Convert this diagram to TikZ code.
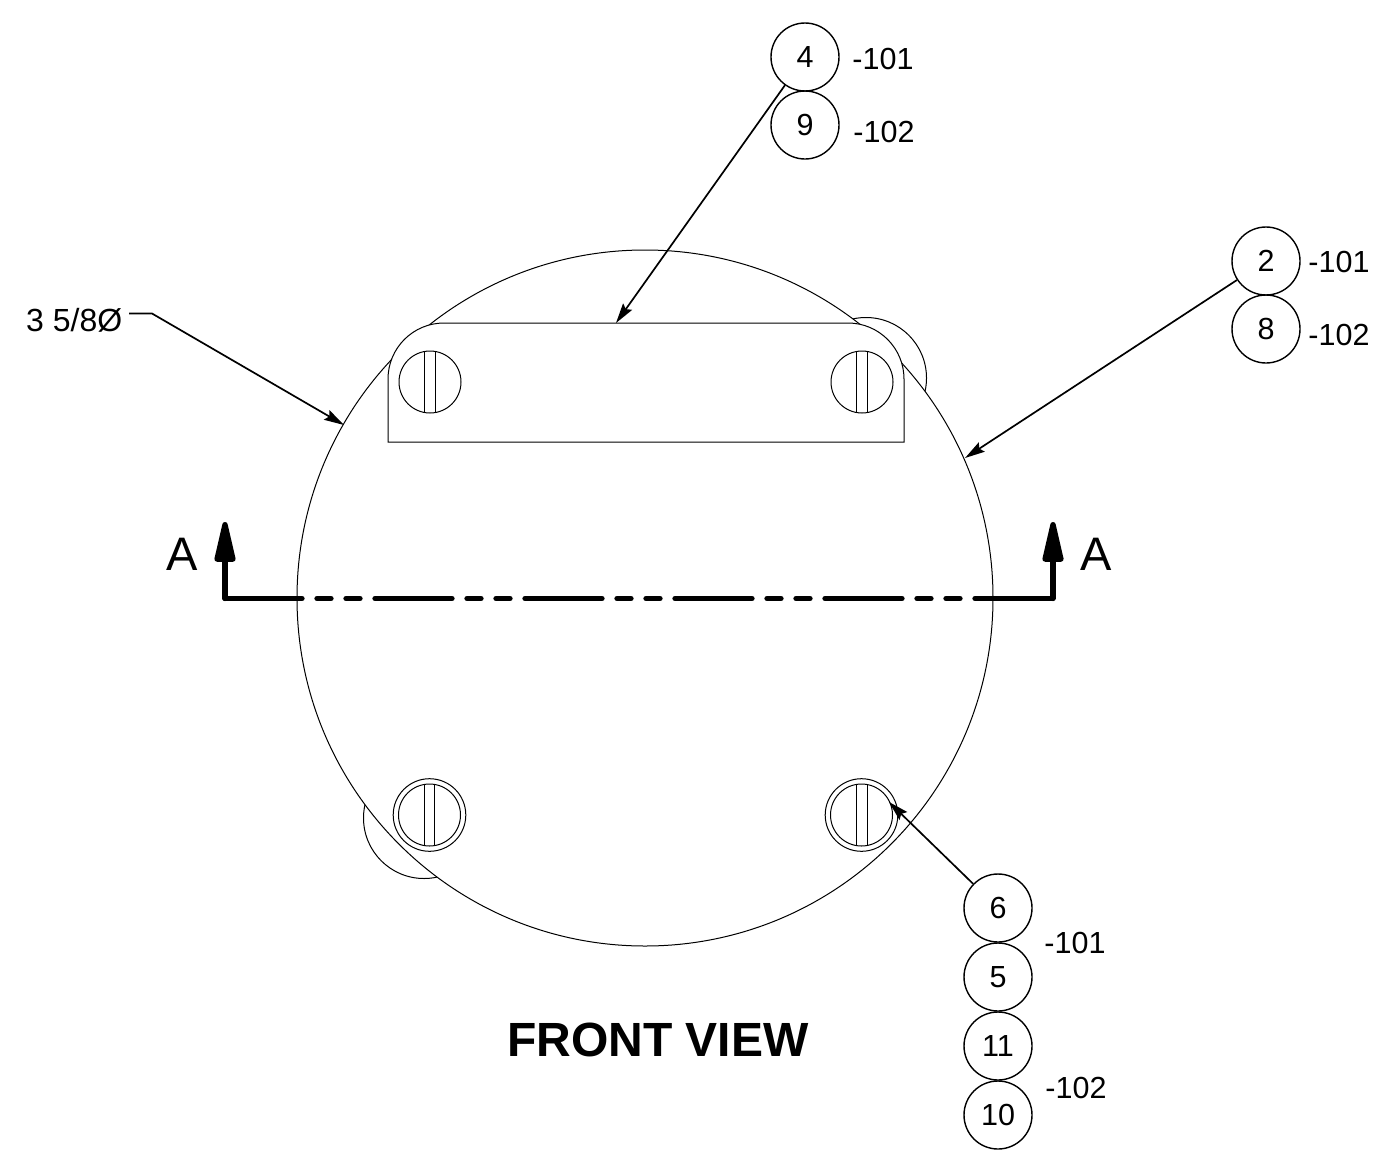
\documentclass[tikz,border=0pt]{standalone}
\usepackage{fontspec}
\setmainfont{Liberation Sans}
\usetikzlibrary{arrows.meta}
\tikzset{
    part/.style={line width=1pt, black},
    balloon/.style={circle, draw, line width=1.4pt, minimum size=68pt, inner sep=0pt, font=\fontsize{30.5}{30.5}\selectfont},
    dash label/.style={inner sep=0pt, font=\fontsize{30.5}{30.5}\selectfont},
    leader/.style={line width=1.7pt, -{Stealth[length=20pt,width=11pt,inset=3pt]}},
    section line/.style={line width=5.3pt, line cap=round, line join=round},
}
\begin{document}
\begin{tikzpicture}[x=1pt, y=-1pt]
    \useasboundingbox (0,0) rectangle (1394,1159);

    % Handles behind the body
    \draw[part] (866,378) circle (60.5pt);
    \draw[part] (424,818) circle (60.5pt);

    % Body
    \draw[part, fill=white] (645,598) circle (348pt);

    % Bracket
    \draw[part, fill=white] (388,442) -- (388,379) arc (180:90:56pt) -- (848,323) arc (90:0:56pt) -- (904,442) -- cycle;

    % Bracket screws
    \draw[part] (430,382) circle (31pt);
    \draw[part] (424.5,351.5) -- (424.5,412.5);
    \draw[part] (435,351.5) -- (435,412.5);
    \draw[part] (862,382) circle (31pt);
    \draw[part] (856.5,351.5) -- (856.5,412.5);
    \draw[part] (867,351.5) -- (867,412.5);

    % Lower screws
    \draw[part] (429.5,815) circle (36.3pt);
    \draw[part] (429.5,815) circle (31pt);
    \draw[part] (424,784.5) -- (424,845.5);
    \draw[part] (434.5,784.5) -- (434.5,845.5);
    \draw[part] (861.5,815) circle (36.3pt);
    \draw[part] (861.5,815) circle (31pt);
    \draw[part] (856,784.5) -- (856,845.5);
    \draw[part] (867,784.5) -- (867,845.5);

    % Section line
    \coordinate (secL) at (225,598.5);
    \coordinate (secR) at (1053,598.5);
    \coordinate (tipL) at (225,522);
    \coordinate (tipR) at (1053,522);
    \draw[section line, dash pattern=on 77pt off 15pt on 14pt off 15pt on 14pt off 15pt] (secL) -- (secR);
    \draw[section line, -{Triangle[length=50pt,width=21pt,round]}] (secL) -- (tipL);
    \draw[section line, -{Triangle[length=50pt,width=21pt,round]}] (secR) -- (tipR);
    \node[inner sep=0pt, font=\fontsize{47}{47}\selectfont] (labelL) at (182,554) {A};
    \node[inner sep=0pt, font=\fontsize{47}{47}\selectfont] (labelR) at (1096,554) {A};

    % 1) top balloons
    \node[balloon] (b4) at (805,57) {4};
    \node[balloon] (b9) at (805,125) {9};
    \node[dash label] (t4) at (883,59) {-101};
    \node[dash label] (t9) at (884,132) {-102};
    \coordinate (p4) at (616,323);
    \draw[leader] (b4) -- (p4);

    % 2) right balloons
    \node[balloon] (b2) at (1266,261) {2};
    \node[balloon] (b8) at (1266,329) {8};
    \node[dash label] (t2) at (1339,262) {-101};
    \node[dash label] (t8) at (1339,335) {-102};
    \coordinate (p2) at (965,458);
    \draw[leader] (b2) -- (p2);

    % 3) lower balloons
    \node[balloon] (b6) at (998,908) {6};
    \node[balloon] (b5) at (998,977) {5};
    \node[balloon] (b11) at (998,1046) {11};
    \node[balloon] (b10) at (998,1115) {10};
    \node[dash label] (t6) at (1075,943) {-101};
    \node[dash label] (t11) at (1076,1088) {-102};
    \coordinate (p6) at (889,802);
    \draw[leader] (b6) -- (p6);

    % Diameter callout
    \node[dash label, anchor=west, font=\fontsize{32}{32}\selectfont] (dia) at (26,320) {3 5/8Ø};
    \coordinate (diaS) at (129,313.5);
    \coordinate (diaK) at (152,313.5);
    \coordinate (diaP) at (344,425);
    \draw[leader] (diaS) -- (diaK) -- (diaP);

    % Title
    \node[inner sep=0pt, font=\fontsize{48}{48}\selectfont\bfseries] (title) at (658,1040) {FRONT VIEW};
\end{tikzpicture}
\end{document}
